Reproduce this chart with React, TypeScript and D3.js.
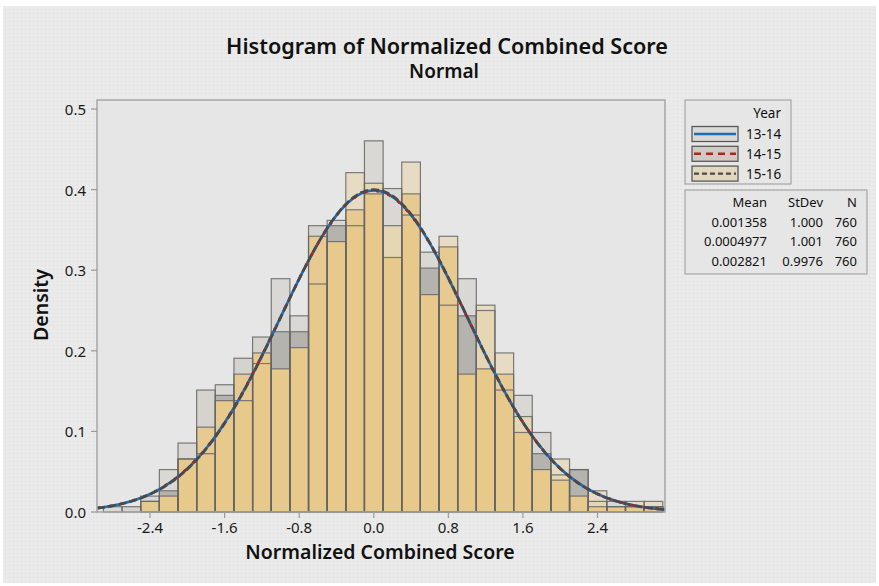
import React from "react";
import * as d3 from "d3";

const binCenters = [-2.8, -2.6, -2.4, -2.2, -2.0, -1.8, -1.6, -1.4, -1.2, -1.0, -0.8, -0.6, -0.4, -0.2, 0.0, 0.2, 0.4, 0.6, 0.8, 1.0, 1.2, 1.4, 1.6, 1.8, 2.0, 2.2, 2.4, 2.6, 2.8, 3.0];
const counts1314 = [1, 0, 3, 8, 13, 11, 24, 21, 28, 44, 37, 43, 55, 54, 70, 61, 56, 49, 39, 44, 38, 23, 22, 15, 7, 8, 2, 2, 1, 1];
const counts1415 = [0, 1, 2, 4, 10, 23, 22, 29, 33, 34, 34, 54, 54, 57, 60, 48, 60, 46, 50, 37, 27, 26, 15, 11, 6, 8, 1, 1, 1, 1];
const counts1516 = [0, 0, 2, 3, 10, 16, 21, 26, 30, 27, 31, 52, 51, 64, 62, 54, 66, 41, 52, 26, 39, 30, 18, 8, 10, 3, 4, 1, 2, 2];
const binWidth = 0.2;

const seriesNames = ["13-14", "14-15", "15-16"];
const means = [0.001358, 0.0004977, 0.002821];
const stdevs = [1.0, 1.001, 0.9976];
const ns = [760, 760, 760];
const meanLabels = ["0.001358", "0.0004977", "0.002821"];
const stdevLabels = ["1.000", "1.001", "0.9976"];

const xTicks = [-2.4, -1.6, -0.8, 0.0, 0.8, 1.6, 2.4];
const yTicks = [0.0, 0.1, 0.2, 0.3, 0.4, 0.5];

const FONT = "'Noto Sans', 'Open Sans', sans-serif";

const regionColors: Record<string, string> = {
  A: "#D9D8D4",
  B: "#D5D3CE",
  T: "#E7DCC3",
  AB: "#B5B3AE",
  AT: "#E5D6B4",
  BT: "#E6CA92",
  ABT: "#E8C98C",
};
const lineColors = ["#1F6DB8", "#B3221B", "#4A4A4A"];
const lineDash = ["", "3 9", "8 3"];
const swatchDash = ["", "7 5", "5 3"];
const swatchFill = ["#DAD9D5", "#CFCAC4", "#E2D8BE"];

export default function App() {
  const x = d3.scaleLinear().domain([-2.969, 3.124]).range([97, 665]);
  const y = d3.scaleLinear().domain([0, 0.5112]).range([512, 100]);
  const series = [counts1314, counts1415, counts1516];
  const dens = (c: number, si: number) => c / (ns[si] * binWidth);
  const keys = "ABT";

  const rects: JSX.Element[] = [];
  const outlines: JSX.Element[] = [];
  binCenters.forEach((c, bi) => {
    const h = series.map((s, si) => dens(s[bi], si));
    const levels = Array.from(new Set([0, ...h])).sort((a, b) => a - b);
    const x0 = x(c - binWidth / 2);
    const x1 = x(c + binWidth / 2);
    for (let k = 1; k < levels.length; k++) {
      const lo = levels[k - 1];
      const hi = levels[k];
      const cover = [0, 1, 2].filter((si) => h[si] >= hi - 1e-9);
      const key = cover.map((i) => keys[i]).join("");
      rects.push(
        <rect key={`r${bi}-${k}`} x={x0} width={x1 - x0} y={y(hi)} height={y(lo) - y(hi)} fill={regionColors[key]} />
      );
    }
    h.forEach((v, si) => {
      if (v > 0)
        outlines.push(
          <rect key={`o${bi}-${si}`} x={x0} width={x1 - x0} y={y(v)} height={y(0) - y(v)} fill="none" stroke="#666666" strokeWidth={1.2} strokeOpacity={0.85} />
        );
    });
  });

  const [dx0, dx1] = x.domain();
  const xs = d3.range(0, 241).map((i) => dx0 + ((dx1 - dx0) * i) / 240);
  const curves = means.map((m, si) => {
    const sd = stdevs[si];
    const line = d3
      .line<number>()
      .x((v) => x(v))
      .y((v) => y(Math.exp(-0.5 * ((v - m) / sd) ** 2) / (sd * Math.sqrt(2 * Math.PI))))
      .curve(d3.curveCatmullRom);
    return line(xs) as string;
  });

  return (
    <svg width={879} height={586} style={{ position: "absolute", left: 0, top: 0 }} fontFamily={FONT}>
      <defs>
        <pattern id="dots" width="4" height="4" patternUnits="userSpaceOnUse">
          <rect width="4" height="4" fill="#EAEAEA" />
          <rect x="1" y="1" width="1" height="1" fill="#DCDCDC" />
        </pattern>
        <clipPath id="plotclip">
          <rect x={97} y={100} width={568} height={412} />
        </clipPath>
      </defs>
      <rect width={879} height={586} fill="#FFFFFF" />
      <rect x={3} y={6} width={873} height={577} fill="url(#dots)" />
      <rect x={97} y={100} width={568} height={412} fill="#E6E6E6" />

      <g>{rects}</g>
      <g>{outlines}</g>

      <g clipPath="url(#plotclip)" fill="none" strokeWidth={2.7}>
        {curves.map((d, si) => (
          <path key={si} d={d} stroke={lineColors[si]} strokeDasharray={lineDash[si]} />
        ))}
      </g>

      <rect x={97} y={100} width={568} height={412} fill="none" stroke="#A6A6A6" strokeWidth={1.5} />

      {yTicks.map((t) => (
        <g key={`y${t}`}>
          <line x1={91} x2={97} y1={y(t)} y2={y(t)} stroke="#9A9A9A" strokeWidth={1.2} />
          <text x={86} y={y(t)} dominantBaseline="central" textAnchor="end" fontSize={15} fill="#1A1A1A">
            {t.toFixed(1)}
          </text>
        </g>
      ))}
      {xTicks.map((t) => (
        <g key={`x${t}`}>
          <line x1={x(t)} x2={x(t)} y1={512} y2={518} stroke="#9A9A9A" strokeWidth={1.2} />
          <text x={x(t)} y={533} textAnchor="middle" fontSize={15} fill="#1A1A1A">
            {t.toFixed(1)}
          </text>
        </g>
      ))}

      <text x={447} y={54} textAnchor="middle" fontSize={21.6} fontWeight={600} fill="#111">
        Histogram of Normalized Combined Score
      </text>
      <text x={444} y={78} textAnchor="middle" fontSize={19} fontWeight={600} fill="#111">
        Normal
      </text>
      <text x={380} y={559} textAnchor="middle" fontSize={19.5} fontWeight={600} fill="#111">
        Normalized Combined Score
      </text>
      <text transform="translate(48,305) rotate(-90)" textAnchor="middle" fontSize={19.5} fontWeight={600} fill="#111">
        Density
      </text>

      <rect x={685} y={100} width={106} height={84} fill="#E6E6E6" stroke="#A6A6A6" strokeWidth={1.2} />
      <text x={781} y={113} dominantBaseline="central" textAnchor="end" fontSize={13.5} fill="#111">
        Year
      </text>
      {seriesNames.map((nm, si) => {
        const cy = 134 + si * 19.8;
        return (
          <g key={nm}>
            <rect x={692} y={cy - 7.5} width={46} height={15} fill={swatchFill[si]} stroke="#5A5A5A" strokeWidth={1.3} />
            <line x1={694} x2={736} y1={cy} y2={cy} stroke={lineColors[si]} strokeWidth={2.4} strokeDasharray={swatchDash[si]} />
            <text x={746} y={cy} dominantBaseline="central" fontSize={13.5} fill="#111">
              {nm}
            </text>
          </g>
        );
      })}

      <rect x={685} y={190} width={182} height={84} fill="#E6E6E6" stroke="#A6A6A6" strokeWidth={1.2} />
      <g fontSize={13} fill="#111" textAnchor="end">
        <text x={767} y={202} dominantBaseline="central">Mean</text>
        <text x={823} y={202} dominantBaseline="central">StDev</text>
        <text x={857} y={202} dominantBaseline="central">N</text>
        {seriesNames.map((nm, si) => {
          const cy = 221.7 + si * 19.7;
          return (
            <g key={`s${nm}`}>
              <text x={767} y={cy} dominantBaseline="central">{meanLabels[si]}</text>
              <text x={823} y={cy} dominantBaseline="central">{stdevLabels[si]}</text>
              <text x={857} y={cy} dominantBaseline="central">{ns[si]}</text>
            </g>
          );
        })}
      </g>
    </svg>
  );
}
